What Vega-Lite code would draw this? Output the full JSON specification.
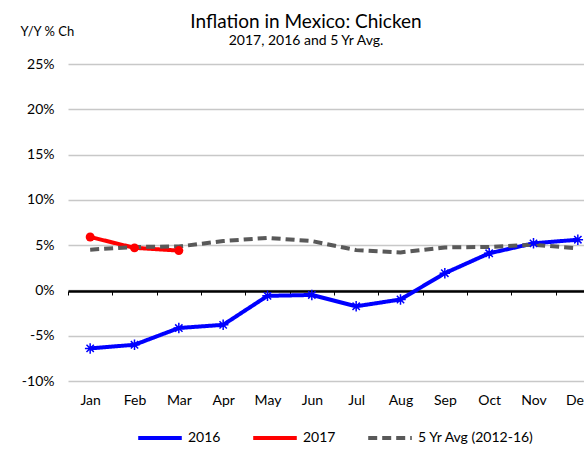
{
  "$schema": "https://vega.github.io/schema/vega-lite/v6.json",
  "autosize": {"type": "none"},
  "width": 532,
  "height": 317,
  "padding": {"left": 68, "top": 64, "right": 0, "bottom": 69},
  "background": "white",
  "config": {
    "view": {"stroke": null},
    "font": "Lato",
    "axis": {"labelFont": "Lato", "titleFont": "Lato"},
    "legend": {"labelFont": "Lato"}
  },
  "title": {
    "text": "Inflation in Mexico: Chicken",
    "subtitle": "2017,  2016 and 5 Yr Avg.",
    "anchor": "middle",
    "frame": "group",
    "dx": -28,
    "offset": -23,
    "fontSize": 19,
    "fontWeight": "normal",
    "color": "#000000",
    "subtitleFontSize": 14,
    "subtitleColor": "#000000",
    "subtitlePadding": 2
  },
  "data": {
    "values": [
      {"month": "Jan", "series": "2016", "value": -6.4},
      {"month": "Feb", "series": "2016", "value": -6.0},
      {"month": "Mar", "series": "2016", "value": -4.15},
      {"month": "Apr", "series": "2016", "value": -3.8},
      {"month": "May", "series": "2016", "value": -0.6},
      {"month": "Jun", "series": "2016", "value": -0.5},
      {"month": "Jul", "series": "2016", "value": -1.75},
      {"month": "Aug", "series": "2016", "value": -1.0},
      {"month": "Sep", "series": "2016", "value": 1.9},
      {"month": "Oct", "series": "2016", "value": 4.1},
      {"month": "Nov", "series": "2016", "value": 5.2},
      {"month": "Dec", "series": "2016", "value": 5.6},
      {"month": "Jan", "series": "2017", "value": 5.9},
      {"month": "Feb", "series": "2017", "value": 4.7},
      {"month": "Mar", "series": "2017", "value": 4.4},
      {"month": "Jan", "series": "5 Yr Avg (2012-16)", "value": 4.5},
      {"month": "Feb", "series": "5 Yr Avg (2012-16)", "value": 4.8},
      {"month": "Mar", "series": "5 Yr Avg (2012-16)", "value": 4.85},
      {"month": "Apr", "series": "5 Yr Avg (2012-16)", "value": 5.45},
      {"month": "May", "series": "5 Yr Avg (2012-16)", "value": 5.8},
      {"month": "Jun", "series": "5 Yr Avg (2012-16)", "value": 5.45},
      {"month": "Jul", "series": "5 Yr Avg (2012-16)", "value": 4.45},
      {"month": "Aug", "series": "5 Yr Avg (2012-16)", "value": 4.2},
      {"month": "Sep", "series": "5 Yr Avg (2012-16)", "value": 4.75},
      {"month": "Oct", "series": "5 Yr Avg (2012-16)", "value": 4.8},
      {"month": "Nov", "series": "5 Yr Avg (2012-16)", "value": 5.05},
      {"month": "Dec", "series": "5 Yr Avg (2012-16)", "value": 4.65}
    ]
  },
  "encoding": {
    "x": {
      "field": "month",
      "type": "ordinal",
      "sort": ["Jan","Feb","Mar","Apr","May","Jun","Jul","Aug","Sep","Oct","Nov","Dec"],
      "scale": {"paddingInner": 0, "paddingOuter": 0},
      "axis": {
        "title": null,
        "orient": "bottom",
        "offset": -90,
        "domainColor": "#000000",
        "domainWidth": 2.5,
        "tickColor": "#000000",
        "tickWidth": 1,
        "tickSize": 4,
        "tickBand": "extent",
        "labelPadding": 98,
        "labelAngle": 0,
        "labelFontSize": 14,
        "labelColor": "#000000",
        "grid": false
      }
    },
    "y": {
      "field": "value",
      "type": "quantitative",
      "scale": {"domain": [-10, 25], "nice": false, "zero": false},
      "axis": {
        "values": [-10, -5, 0, 5, 10, 15, 20, 25],
        "labelExpr": "datum.value + '%'",
        "domain": false,
        "ticks": false,
        "labelPadding": 14,
        "labelFontSize": 14,
        "labelColor": "#000000",
        "gridColor": "#c8c8c8",
        "gridWidth": 1.5,
        "title": "Y/Y % Ch",
        "titleAngle": 0,
        "titleAlign": "left",
        "titleBaseline": "middle",
        "titleX": -48,
        "titleY": -33,
        "titleFontSize": 13,
        "titleFontWeight": "normal",
        "titleColor": "#000000"
      }
    }
  },
  "layer": [
    {
      "mark": {"type": "line", "strokeWidth": 4},
      "encoding": {
        "color": {
          "field": "series",
          "type": "nominal",
          "scale": {"domain": ["2016", "2017", "5 Yr Avg (2012-16)"], "range": ["#0000ff", "#ff0000", "#595959"]},
          "legend": {
            "title": null,
            "orient": "none",
            "direction": "horizontal",
            "legendX": 68,
            "legendY": 350,
            "symbolType": "stroke",
            "symbolSize": 1900,
            "symbolStrokeWidth": 4,
            "labelFontSize": 14,
            "labelColor": "#000000",
            "columnPadding": 24,
            "labelOffset": 4
          }
        },
        "strokeDash": {
          "field": "series",
          "type": "nominal",
          "scale": {"domain": ["2016", "2017", "5 Yr Avg (2012-16)"], "range": [[1, 0], [1, 0], [9, 5]]},
          "legend": null
        }
      }
    },
    {
      "transform": [{"filter": "datum.series === '2016'"}],
      "mark": {"type": "point", "shape": "M-1,0L1,0M0,-1L0,1M-0.7,-0.7L0.7,0.7M-0.7,0.7L0.7,-0.7", "size": 110, "filled": false, "stroke": "#0000ff", "strokeWidth": 1.5, "opacity": 1},
      "encoding": {}
    },
    {
      "transform": [{"filter": "datum.series === '2017'"}],
      "mark": {"type": "point", "shape": "circle", "size": 80, "filled": true, "color": "#ff0000", "opacity": 1},
      "encoding": {}
    }
  ]
}
